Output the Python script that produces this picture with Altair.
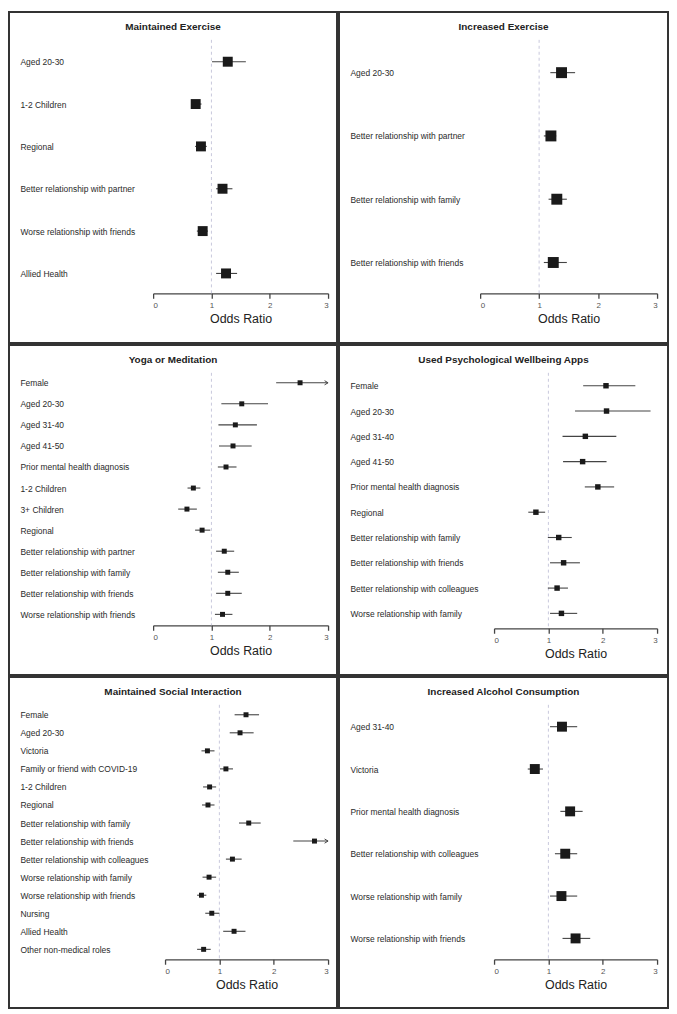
import altair as alt
import pandas as pd

# ---------------- data ----------------
titles = [
    "Maintained Exercise",
    "Increased Exercise",
    "Yoga or Meditation",
    "Used Psychological Wellbeing Apps",
    "Maintained Social Interaction",
    "Increased Alcohol Consumption",
]

labels_1 = ["Aged 20-30", "1-2 Children", "Regional", "Better relationship with partner",
            "Worse relationship with friends", "Allied Health"]
or_1 = [1.28, 0.73, 0.82, 1.19, 0.85, 1.25]
lo_1 = [1.01, 0.65, 0.72, 1.08, 0.75, 1.08]
hi_1 = [1.59, 0.83, 0.92, 1.36, 0.94, 1.44]

labels_2 = ["Aged 20-30", "Better relationship with partner", "Better relationship with family",
            "Better relationship with friends"]
or_2 = [1.38, 1.20, 1.30, 1.24]
lo_2 = [1.19, 1.08, 1.16, 1.08]
hi_2 = [1.61, 1.29, 1.47, 1.47]

labels_3 = ["Female", "Aged 20-30", "Aged 31-40", "Aged 41-50", "Prior mental health diagnosis",
            "1-2 Children", "3+ Children", "Regional", "Better relationship with partner",
            "Better relationship with family", "Better relationship with friends",
            "Worse relationship with friends"]
or_3 = [2.52, 1.52, 1.41, 1.37, 1.25, 0.69, 0.58, 0.84, 1.22, 1.28, 1.28, 1.19]
lo_3 = [2.11, 1.17, 1.12, 1.13, 1.11, 0.59, 0.43, 0.72, 1.08, 1.11, 1.08, 1.06]
hi_3 = [3.20, 1.97, 1.78, 1.69, 1.43, 0.81, 0.75, 0.98, 1.39, 1.47, 1.52, 1.36]

labels_4 = ["Female", "Aged 20-30", "Aged 31-40", "Aged 41-50", "Prior mental health diagnosis",
            "Regional", "Better relationship with family", "Better relationship with friends",
            "Better relationship with colleagues", "Worse relationship with family"]
or_4 = [2.06, 2.07, 1.68, 1.63, 1.91, 0.77, 1.19, 1.28, 1.16, 1.24]
lo_4 = [1.64, 1.49, 1.26, 1.27, 1.67, 0.63, 0.99, 1.03, 0.99, 1.03]
hi_4 = [2.60, 2.88, 2.25, 2.07, 2.21, 0.94, 1.43, 1.58, 1.36, 1.53]

labels_5 = ["Female", "Aged 20-30", "Victoria", "Family or friend with COVID-19", "1-2 Children",
            "Regional", "Better relationship with family", "Better relationship with friends",
            "Better relationship with colleagues", "Worse relationship with family",
            "Worse relationship with friends", "Nursing", "Allied Health", "Other non-medical roles"]
or_5 = [1.49, 1.38, 0.78, 1.12, 0.82, 0.79, 1.54, 2.75, 1.24, 0.81, 0.67, 0.86, 1.27, 0.71]
lo_5 = [1.28, 1.19, 0.67, 1.01, 0.70, 0.68, 1.36, 2.36, 1.12, 0.69, 0.59, 0.74, 1.07, 0.59]
hi_5 = [1.73, 1.63, 0.91, 1.25, 0.94, 0.91, 1.76, 3.30, 1.41, 0.94, 0.76, 1.00, 1.48, 0.84]

labels_6 = ["Aged 31-40", "Victoria", "Prior mental health diagnosis",
            "Better relationship with colleagues", "Worse relationship with family",
            "Worse relationship with friends"]
or_6 = [1.25, 0.75, 1.40, 1.31, 1.24, 1.50]
lo_6 = [1.03, 0.62, 1.22, 1.12, 1.03, 1.26]
hi_6 = [1.53, 0.90, 1.63, 1.53, 1.53, 1.77]

x_ticks = [0, 1, 2, 3]
ref_value = [1]

labels = [labels_1, labels_2, labels_3, labels_4, labels_5, labels_6]
ors = [or_1, or_2, or_3, or_4, or_5, or_6]
los = [lo_1, lo_2, lo_3, lo_4, lo_5, lo_6]
his = [hi_1, hi_2, hi_3, hi_4, hi_5, hi_6]

# ---------------- layout / style ----------------
layout = [
    dict(w=330, h=333, xr=[145, 321], yr=[50, 263], ax=283, ms=100),
    dict(w=331, h=333, xr=[142, 320], yr=[61, 252], ax=283, ms=121),
    dict(w=330, h=332, xr=[145, 321], yr=[38, 271], ax=282, ms=25),
    dict(w=331, h=332, xr=[156, 320], yr=[41, 270], ax=285, ms=30),
    dict(w=330, h=333, xr=[157, 321], yr=[38, 274], ax=284, ms=25),
    dict(w=331, h=333, xr=[156, 320], yr=[50, 263], ax=284, ms=100),
]

FONT = "Liberation Sans"


def panel(i):
    L = layout[i]
    df = pd.DataFrame({"label": labels[i], "or": ors[i], "lo": los[i], "hi": his[i]})
    xmax = x_ticks[-1]
    xs = alt.Scale(domain=[x_ticks[0], xmax], range=L["xr"], nice=False, zero=False)
    ys = alt.Scale(type="point", domain=labels[i], range=L["yr"], padding=0)
    xaxis = alt.Axis(values=x_ticks, title="Odds Ratio", offset=-(L["h"] - L["ax"]),
                     grid=False, domainColor="#444", domainWidth=1.3, tickColor="#444",
                     tickWidth=1.3, tickSize=5, labelFontSize=8, labelColor="#555",
                     labelPadding=3, labelFont=FONT, titleFont=FONT, titleFontSize=12.5,
                     titleFontWeight="normal", titleColor="#222", titlePadding=3, format="d")
    yaxis = alt.Axis(title=None, domain=False, ticks=False, tickSize=0, labelAlign="left",
                     labelPadding=-11, grid=False, labelFontSize=8.5, labelColor="#2a2a2a",
                     labelFont=FONT, labelLimit=300)

    base = alt.Chart(df).transform_calculate(hi_c=f"min(datum.hi, {xmax})")

    refline = alt.Chart(pd.DataFrame({"ref": ref_value})).mark_rule(
        strokeDash=[3, 3], color="#c8c8dc", strokeWidth=1
    ).encode(
        x=alt.X("ref:Q", scale=xs, axis=xaxis),
        y=alt.value(28),
        y2=alt.value(L["ax"]),
    )
    ci = base.mark_rule(color="#444", strokeWidth=1.1).encode(
        x=alt.X("lo:Q", scale=xs, axis=xaxis),
        x2="hi_c:Q",
        y=alt.Y("label:N", scale=ys, axis=yaxis, sort=None),
    )
    pts = base.mark_point(shape="square", filled=True, color="#1a1a1a", opacity=1,
                          size=L["ms"]).encode(
        x=alt.X("or:Q", scale=xs, axis=xaxis),
        y=alt.Y("label:N", scale=ys, axis=yaxis, sort=None),
    )
    arrows = base.transform_filter(f"datum.hi > {xmax}").mark_point(
        shape="M-1,-0.6L0,0L-1,0.6", filled=False, color="#444", strokeWidth=1, size=49, opacity=1
    ).encode(
        x=alt.X("hi_c:Q", scale=xs, axis=xaxis),
        y=alt.Y("label:N", scale=ys, axis=yaxis, sort=None),
    )
    return alt.layer(refline, ci, pts, arrows).properties(
        width=L["w"], height=L["h"],
        title=alt.TitleParams(titles[i], fontSize=10, fontWeight="bold", color="#222",
                              font=FONT, offset=-30, baseline="bottom", anchor="middle"),
    )


rows = [alt.hconcat(panel(0), panel(1), spacing=0),
        alt.hconcat(panel(2), panel(3), spacing=0),
        alt.hconcat(panel(4), panel(5), spacing=0)]

chart = alt.vconcat(*rows, spacing=0).properties(padding=0).configure_view(
    stroke="#333", strokeWidth=2
).configure_axis(grid=False)

chart.save("out.html", embed_options={"renderer": "svg", "actions": False})
